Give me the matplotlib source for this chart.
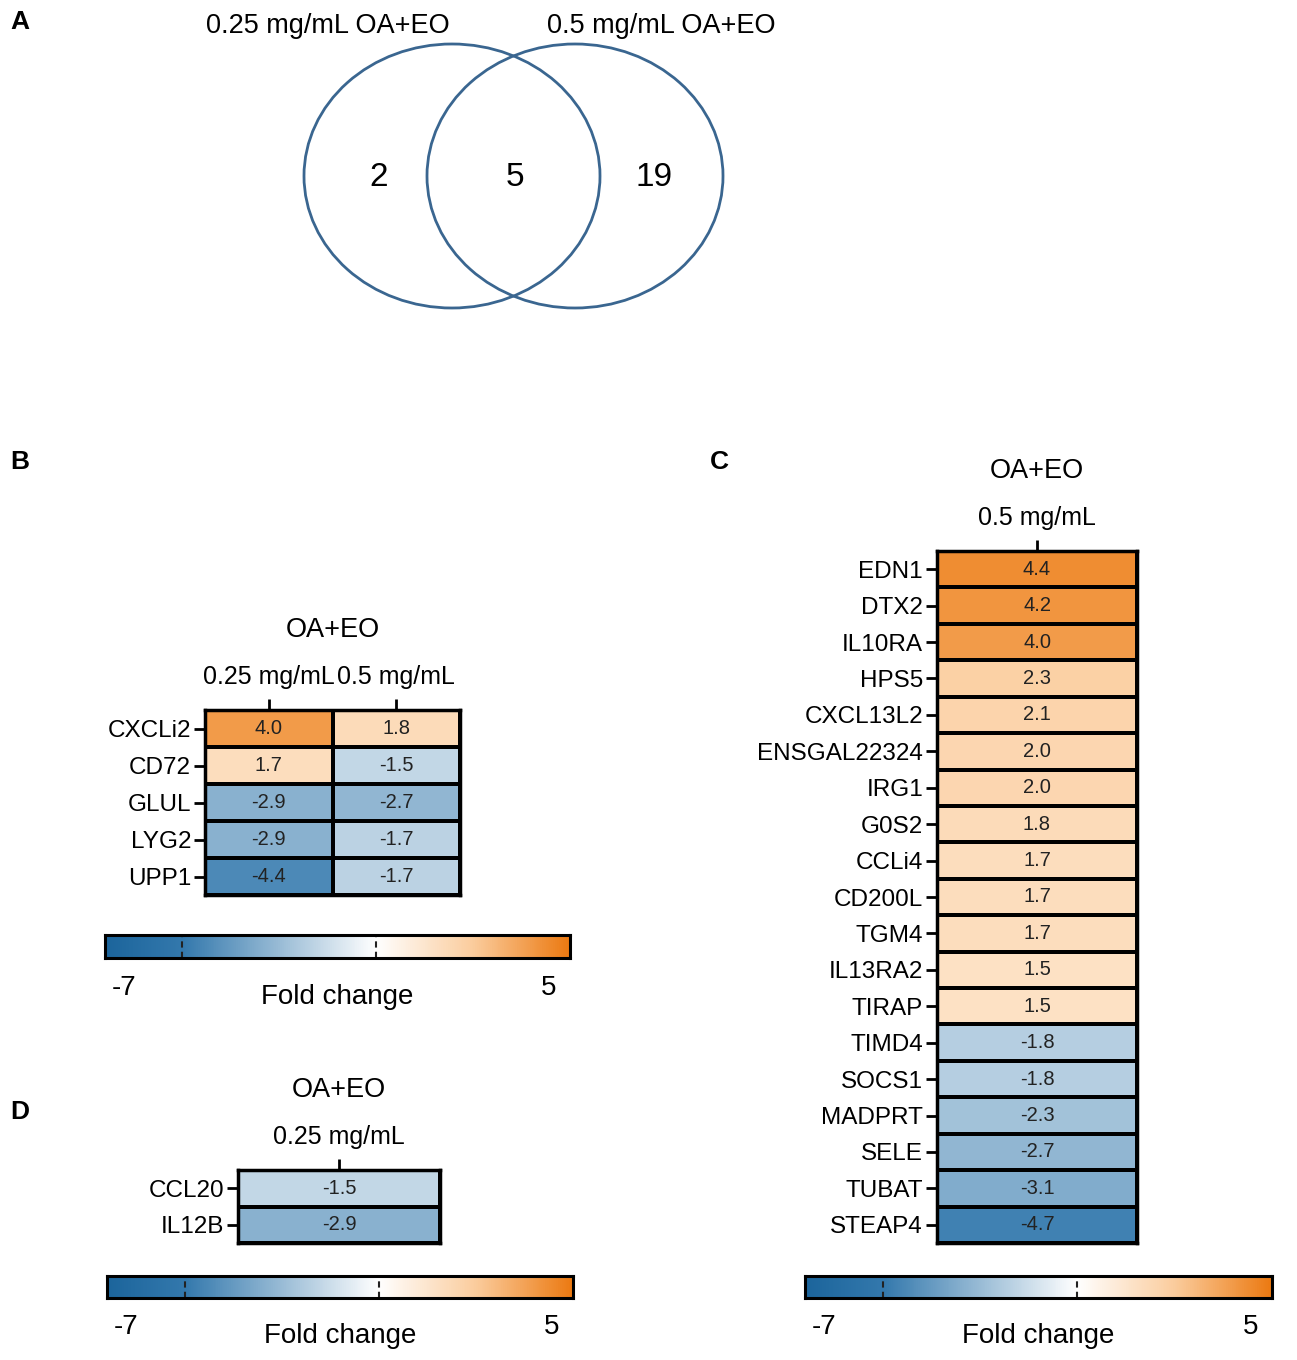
import numpy as np
import matplotlib.pyplot as plt
from matplotlib.colors import LinearSegmentedColormap
from matplotlib.patches import Ellipse

plt.rcParams['font.family'] = ['Liberation Sans', 'DejaVu Sans']

# Venn counts (only 0.25, shared, only 0.5)
venn_labels = ["0.25 mg/mL OA+EO", "0.5 mg/mL OA+EO"]
venn_counts = [2, 5, 19]

# panel B
genes_b = ["CXCLi2", "CD72", "GLUL", "LYG2", "UPP1"]
cols_b = ["0.25 mg/mL", "0.5 mg/mL"]
fc_b = [[4.0, 1.8],
        [1.7, -1.5],
        [-2.9, -2.7],
        [-2.9, -1.7],
        [-4.4, -1.7]]

# panel C
genes_c = ["EDN1", "DTX2", "IL10RA", "HPS5", "CXCL13L2", "ENSGAL22324", "IRG1",
           "G0S2", "CCLi4", "CD200L", "TGM4", "IL13RA2", "TIRAP", "TIMD4",
           "SOCS1", "MADPRT", "SELE", "TUBAT", "STEAP4"]
cols_c = ["0.5 mg/mL"]
fc_c = [4.4, 4.2, 4.0, 2.3, 2.1, 2.0, 2.0, 1.8, 1.7, 1.7, 1.7, 1.5, 1.5,
        -1.8, -1.8, -2.3, -2.7, -3.1, -4.7]

# panel D
genes_d = ["CCL20", "IL12B"]
cols_d = ["0.25 mg/mL"]
fc_d = [-1.5, -2.9]

vmin, vmax = -7, 5
nodes = [(-7, '#1c659c'), (-5, '#3479ad'), (0, '#ffffff'), (2.5, '#fbcd9e'),
         (5, '#ec7a12')]
cmap = LinearSegmentedColormap.from_list(
    'fc', [((v - vmin) / (vmax - vmin), c) for v, c in nodes])

W, H = 1297, 1360
fig = plt.figure(figsize=(W / 100, H / 100), dpi=100)


def box(x0, y0, x1, y1):
    return [x0 / W, 1 - y1 / H, (x1 - x0) / W, (y1 - y0) / H]


# background axes in pixel units for venn + panel letters
bg = fig.add_axes([0, 0, 1, 1])
bg.set_xlim(0, W)
bg.set_ylim(H, 0)
bg.axis('off')

for cx in (452, 575):
    bg.add_patch(Ellipse((cx, 176), 296, 264, fill=False, ec='#3a6690', lw=2))
for x, n in zip((379, 515, 654), venn_counts):
    bg.text(x, 178, str(n), fontsize=24, ha='center', va='center')
for x, lab in zip((328, 661), venn_labels):
    bg.text(x, 26, lab, fontsize=19.5, ha='center', va='center')

for x, y, letter in [(10, 22, "A"), (10, 462, "B"), (710, 462, "C"), (10, 1112, "D")]:
    bg.text(x, y, letter, fontsize=19, fontweight='bold', ha='left', va='center')


def heatmap(rect, values, genes, cols, title_pad):
    ax = fig.add_axes(rect)
    data = np.array(values, dtype=float).reshape(len(genes), len(cols))
    ax.pcolormesh(data, cmap=cmap, vmin=vmin, vmax=vmax,
                  edgecolors='black', linewidth=1.6)
    for i in range(data.shape[0]):
        for j in range(data.shape[1]):
            ax.text(j + 0.5, i + 0.5, f"{data[i, j]:.1f}", ha='center',
                    va='center', fontsize=14.5, color='#222222')
    ax.set_xlim(0, len(cols))
    ax.set_ylim(len(genes), 0)
    ax.set_yticks(np.arange(len(genes)) + 0.5)
    ax.set_yticklabels(genes, fontsize=17.5)
    ax.set_xticks(np.arange(len(cols)) + 0.5)
    ax.set_xticklabels(cols, fontsize=18)
    ax.xaxis.tick_top()
    ax.tick_params(axis='y', length=8, width=2, pad=2)
    ax.tick_params(axis='x', length=8, width=2, pad=7)
    for s in ax.spines.values():
        s.set_linewidth(2.5)
    ax.set_title("OA+EO", fontsize=19.5, pad=title_pad)
    return ax


def colorbar(rect):
    ax = fig.add_axes(rect)
    grad = np.linspace(vmin, vmax, 500).reshape(1, -1)
    ax.imshow(grad, cmap=cmap, vmin=vmin, vmax=vmax, aspect='auto',
              extent=(vmin, vmax, 0, 1))
    for v in (-5, 0):
        ax.axvline(v, color='#222222', lw=1.5, ls=(0, (3, 2)))
    ax.set_xticks([])
    ax.set_yticks([])
    for s in ax.spines.values():
        s.set_linewidth(2.2)
    ax.text(0.04, -0.75, str(vmin), transform=ax.transAxes, fontsize=20,
            ha='center', va='top')
    ax.text(0.955, -0.75, str(vmax), transform=ax.transAxes, fontsize=20,
            ha='center', va='top')
    ax.text(0.5, -1.15, "Fold change", transform=ax.transAxes, fontsize=20,
            ha='center', va='top')
    return ax


heatmap(box(205, 710, 460, 895), fc_b, genes_b, cols_b, 20)
heatmap(box(937, 551, 1137, 1243), fc_c, genes_c, cols_c, 20)
heatmap(box(238, 1170, 440, 1243), fc_d, genes_d, cols_d, 20)

colorbar(box(105, 935, 570, 958))
colorbar(box(107, 1276, 573, 1298))
colorbar(box(805, 1276, 1272, 1298))

fig.savefig("out.png", dpi=100)
